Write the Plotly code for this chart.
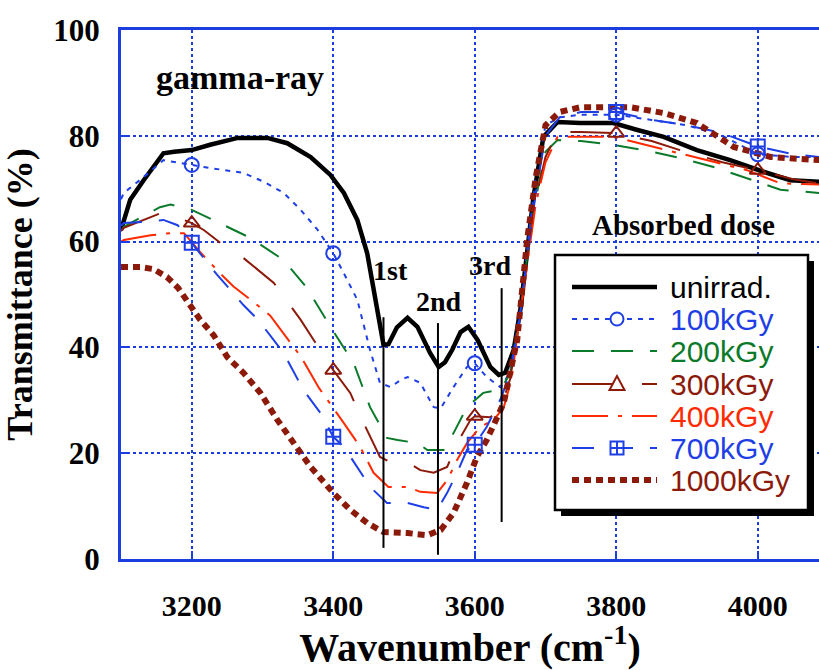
import numpy as np
import plotly.graph_objects as go

# ---- IR transmittance spectra, O-H stretching region ----
WN_UNIRR = [3100, 3113, 3132, 3160, 3175, 3200, 3226, 3265, 3307, 3335, 3368, 3396, 3415, 3434,
            3448, 3457, 3464, 3471, 3478, 3490, 3505, 3519, 3537, 3549, 3558, 3568, 3580, 3591,
            3604, 3622, 3634, 3643, 3655, 3665, 3674, 3683, 3697, 3717, 3749, 3796, 3830, 3867,
            3914, 3961, 4008, 4046, 4087]
T_UNIRR = [62.2, 67.9, 71.6, 76.7, 77.0, 77.3, 78.3, 79.6, 79.6, 78.6, 76.0, 72.6, 69.2, 64.1,
           57.8, 51.4, 45.5, 40.5, 40.6, 43.8, 45.6, 43.9, 38.9, 36.3, 37.2, 39.5, 42.9, 43.9,
           41.4, 36.3, 34.8, 35.2, 39.5, 47.6, 58.0, 68.4, 79.8, 82.6, 82.4, 82.4, 81.1, 79.8,
           77.3, 75.4, 73.2, 71.6, 71.3]

WN_100 = [3100, 3104, 3132, 3160, 3200, 3226, 3273, 3302, 3330, 3354, 3378, 3400, 3415, 3434,
          3452, 3466, 3481, 3495, 3505, 3523, 3542, 3552, 3570, 3589, 3600, 3617, 3636, 3650,
          3662, 3675, 3686, 3700, 3720, 3750, 3800, 3850, 3900, 3950, 4000, 4050, 4087]
T_100 = [68.0, 69.2, 72.2, 75.4, 74.5, 73.9, 73.0, 71.3, 69.2, 66.0, 62.2, 57.8, 54.0, 49.0,
         39.5, 33.3, 32.5, 33.8, 34.4, 33.3, 28.7, 28.5, 32.5, 36.3, 37.0, 34.4, 32.5, 35.2,
         45.0, 60.0, 72.0, 82.0, 83.5, 84.0, 84.0, 83.0, 82.0, 80.0, 76.5, 76.0, 76.0]

WN_200 = [3100, 3104, 3155, 3170, 3200, 3236, 3283, 3330, 3363, 3396, 3429, 3452, 3476, 3491,
          3519, 3533, 3556, 3570, 3589, 3600, 3612, 3636, 3650, 3662, 3675, 3686, 3700, 3717,
          3750, 3796, 3850, 3890, 3940, 3971, 4032, 4087]
T_200 = [62.0, 62.8, 66.5, 67.0, 66.0, 63.7, 60.7, 56.5, 51.2, 43.9, 37.0, 28.7, 22.9, 22.5,
         21.9, 20.6, 20.6, 23.8, 28.7, 30.0, 31.4, 32.0, 35.0, 44.0, 58.0, 68.0, 77.0, 79.2,
         79.0, 78.3, 77.0, 75.8, 74.0, 72.6, 69.8, 69.2]

WN_300 = [3100, 3104, 3160, 3200, 3217, 3241, 3273, 3316, 3354, 3382, 3400, 3424, 3443, 3466,
          3481, 3505, 3523, 3542, 3561, 3575, 3594, 3600, 3622, 3636, 3650, 3662, 3675, 3686,
          3700, 3717, 3750, 3800, 3850, 3890, 3950, 4000, 4050, 4087]
T_300 = [62.0, 62.6, 65.6, 63.5, 62.2, 59.7, 56.9, 52.2, 45.2, 39.5, 35.7, 31.4, 25.7, 19.3,
         18.3, 18.3, 16.8, 16.3, 17.4, 21.9, 26.3, 27.0, 26.8, 28.2, 34.0, 44.0, 58.0, 68.0,
         76.0, 80.7, 80.7, 80.5, 79.0, 77.3, 75.0, 73.5, 71.8, 71.0]

WN_400 = [3100, 3104, 3142, 3170, 3189, 3212, 3240, 3259, 3287, 3311, 3354, 3380, 3415, 3438,
          3457, 3478, 3505, 3523, 3547, 3561, 3575, 3589, 3608, 3627, 3641, 3652, 3662, 3675,
          3686, 3700, 3717, 3796, 3890, 3985, 4032, 4087]
T_400 = [60.0, 60.3, 61.2, 61.6, 61.6, 58.0, 54.0, 51.5, 48.6, 46.0, 38.3, 32.3, 25.7, 21.2,
         16.3, 13.6, 13.6, 12.7, 12.5, 14.9, 18.7, 21.9, 25.0, 26.3, 28.7, 34.0, 44.0, 57.0,
         67.0, 75.0, 79.8, 79.8, 76.7, 73.5, 71.0, 70.8]

WN_700 = [3100, 3104, 3132, 3160, 3180, 3200, 3212, 3236, 3257, 3273, 3294, 3314, 3330, 3358,
          3382, 3400, 3415, 3443, 3457, 3476, 3505, 3528, 3547, 3561, 3575, 3589, 3600, 3617,
          3636, 3650, 3662, 3675, 3686, 3700, 3720, 3750, 3800, 3850, 3900, 3950, 4000, 4050, 4087]
T_700 = [63.0, 63.5, 63.7, 64.1, 63.1, 59.8, 57.8, 53.7, 50.5, 48.0, 45.2, 41.6, 38.9, 31.9,
         27.6, 23.1, 21.2, 15.5, 13.0, 10.6, 10.6, 9.8, 9.3, 12.5, 16.3, 20.6, 21.6, 25.0,
         30.1, 35.0, 44.0, 58.0, 69.0, 80.0, 83.5, 84.5, 84.5, 83.0, 82.0, 80.5, 78.0, 76.5, 76.0]

WN_1000 = [3100, 3127, 3146, 3165, 3181, 3198, 3212, 3231, 3250, 3273, 3297, 3321, 3344, 3368,
           3400, 3424, 3448, 3471, 3505, 3533, 3552, 3570, 3589, 3603, 3617, 3631, 3641, 3650,
           3660, 3674, 3686, 3700, 3720, 3749, 3800, 3820, 3867, 3914, 3966, 4018, 4087]
T_1000 = [55.2, 55.2, 54.8, 53.3, 51.2, 48.0, 45.2, 42.3, 38.2, 35.2, 31.4, 26.3, 21.9, 17.4,
          12.5, 9.3, 6.8, 5.1, 4.9, 4.5, 5.5, 8.7, 14.4, 19.3, 22.5, 26.3, 29.5, 35.2,
          41.4, 60.3, 72.0, 82.0, 84.5, 85.4, 85.5, 85.4, 84.3, 82.4, 77.9, 76.0, 75.4]

# wavenumbers carrying a symbol on the marked series
MARK_WN = [3200, 3400, 3600, 3800, 4000]

# absorption band markers
BAND_LABELS = ["1st", "2nd", "3rd"]
BAND_WN = [3471, 3548, 3638]
BAND_TOP = [45.7, 44.6, 51.2]
BAND_BOTTOM = [2.1, 0.8, 7.0]
BAND_LABEL_WN = [3481, 3549, 3622]
BAND_LABEL_T = [54.6, 48.6, 55.4]

X_TICKS = [3200, 3400, 3600, 3800, 4000]
Y_TICKS = [0, 20, 40, 60, 80, 100]

# ---- styling ----
BLUE = "#1f3fe6"
GREEN = "#0b7a2a"
DARKRED = "#8c1a0a"
RED = "#ff2a00"
AXIS_BLUE = "#1c3ee0"
SERIF = "Liberation Serif, Times New Roman, serif"
SANS = "Liberation Sans, Arial, sans-serif"

series = [
    dict(name="unirrad.", wn=WN_UNIRR, t=T_UNIRR, color="black", width=4.5, dash="solid", symbol=None),
    dict(name="100kGy", wn=WN_100, t=T_100, color=BLUE, width=2, dash="5px,6px", symbol="circle-open"),
    dict(name="200kGy", wn=WN_200, t=T_200, color=GREEN, width=2, dash="22px,17px", symbol=None),
    dict(name="300kGy", wn=WN_300, t=T_300, color=DARKRED, width=2, dash="42px,28px", symbol="triangle-up-open"),
    dict(name="400kGy", wn=WN_400, t=T_400, color=RED, width=2, dash="36px,10px,4px,10px", symbol=None),
    dict(name="700kGy", wn=WN_700, t=T_700, color=BLUE, width=2, dash="22px,17px", symbol="square-cross-open"),
    dict(name="1000kGy", wn=WN_1000, t=T_1000, color=DARKRED, width=6, dash="7px,5px", symbol=None),
]

fig = go.Figure()
for s in series:
    fig.add_trace(go.Scatter(x=s["wn"], y=s["t"], mode="lines", name=s["name"],
                             line=dict(color=s["color"], width=s["width"], dash=s["dash"]),
                             showlegend=False, hoverinfo="skip"))
for s in series:
    if s["symbol"] is None:
        continue
    wn = np.array(s["wn"])
    t = np.array(s["t"])
    sel = np.isin(wn, MARK_WN)
    fig.add_trace(go.Scatter(x=wn[sel], y=t[sel], mode="markers", showlegend=False,
                             marker=dict(symbol=s["symbol"], size=14, color=s["color"],
                                         line=dict(color=s["color"], width=2)),
                             hoverinfo="skip"))

shapes = []
annotations = []

# band position lines and labels
for lab, w, top, bot, lw, lt in zip(BAND_LABELS, BAND_WN, BAND_TOP, BAND_BOTTOM,
                                     BAND_LABEL_WN, BAND_LABEL_T):
    shapes.append(dict(type="line", xref="x", yref="y", x0=w, x1=w, y0=bot, y1=top,
                       line=dict(color="black", width=2), layer="above"))
    annotations.append(dict(x=lw, y=lt, xref="x", yref="y", text=lab, showarrow=False,
                            xanchor="center", yanchor="middle",
                            font=dict(family=SERIF, size=28, color="black", weight="bold")))

# pixel helpers for the key box (plot area spans 121..819 x 30..559)
L, R, T, B = 121, 819, 30, 559


def px(x):
    return (x - L) / (R - L)


def py(y):
    return (B - y) / (B - T)


annotations.append(dict(x=px(240), y=py(78), xref="paper", yref="paper", text="gamma-ray",
                        xanchor="center", yanchor="middle", showarrow=False,
                        font=dict(family=SERIF, size=34, color="black", weight="bold")))
annotations.append(dict(x=px(683), y=py(225), xref="paper", yref="paper", text="Absorbed dose",
                        xanchor="center", yanchor="middle", showarrow=False,
                        font=dict(family=SERIF, size=29, color="black", weight="bold")))

# key box with drop shadow
shapes.append(dict(type="rect", xref="paper", yref="paper", x0=px(561), x1=px(814), y0=py(516), y1=py(261),
                   fillcolor="black", line=dict(width=0), layer="above"))
shapes.append(dict(type="rect", xref="paper", yref="paper", x0=px(555), x1=px(808), y0=py(510), y1=py(255),
                   fillcolor="white", line=dict(color="black", width=2.5), layer="above"))

key_y = [287, 319, 351, 384, 416, 448, 480]
sx0, sx1, mx = 572, 657, 617
for s, ky in zip(series, key_y):
    shapes.append(dict(type="line", xref="paper", yref="paper", x0=px(sx0), x1=px(sx1), y0=py(ky), y1=py(ky),
                       line=dict(color=s["color"], width=s["width"], dash=s["dash"]), layer="above"))
    r = 6.5
    if s["symbol"] == "circle-open":
        shapes.append(dict(type="circle", xref="paper", yref="paper", x0=px(mx - r), x1=px(mx + r),
                           y0=py(ky + r), y1=py(ky - r), fillcolor="white",
                           line=dict(color=s["color"], width=2), layer="above"))
    elif s["symbol"] == "triangle-up-open":
        path = "M {} {} L {} {} L {} {} Z".format(px(mx), py(ky - 8), px(mx - 7.5), py(ky + 6),
                                                  px(mx + 7.5), py(ky + 6))
        shapes.append(dict(type="path", xref="paper", yref="paper", path=path, fillcolor="white",
                           line=dict(color=s["color"], width=2), layer="above"))
    elif s["symbol"] == "square-cross-open":
        shapes.append(dict(type="rect", xref="paper", yref="paper", x0=px(mx - r), x1=px(mx + r),
                           y0=py(ky + r), y1=py(ky - r), fillcolor="white",
                           line=dict(color=s["color"], width=2), layer="above"))
        shapes.append(dict(type="line", xref="paper", yref="paper", x0=px(mx), x1=px(mx),
                           y0=py(ky + r), y1=py(ky - r), line=dict(color=s["color"], width=2), layer="above"))
        shapes.append(dict(type="line", xref="paper", yref="paper", x0=px(mx - r), x1=px(mx + r),
                           y0=py(ky), y1=py(ky), line=dict(color=s["color"], width=2), layer="above"))
    annotations.append(dict(x=px(668), y=py(ky), xref="paper", yref="paper", xanchor="left",
                            yanchor="middle", text=s["name"], showarrow=False,
                            font=dict(family=SANS, size=30, color=s["color"])))

fig.update_layout(
    width=819, height=670,
    margin=dict(l=L, r=819 - R, t=T, b=670 - B),
    paper_bgcolor="white", plot_bgcolor="white",
    showlegend=False,
    shapes=shapes, annotations=annotations,
    xaxis=dict(range=[3100, 3100 + (R - L) / 0.7075], tickvals=X_TICKS,
               showline=True, linecolor=AXIS_BLUE, linewidth=3, mirror=True,
               showgrid=True, gridcolor=AXIS_BLUE, gridwidth=2, griddash="dot",
               zeroline=False, ticks="inside", ticklen=8, tickwidth=2, tickcolor=AXIS_BLUE,
               tickfont=dict(family=SERIF, size=30, color="black", weight="bold"),
               ticklabelstandoff=18,
               title=dict(text="Wavenumber (cm<sup>-1</sup>)", standoff=12,
                          font=dict(family=SERIF, size=40, color="black", weight="bold"))),
    yaxis=dict(range=[0, 100], tickvals=Y_TICKS,
               showline=True, linecolor=AXIS_BLUE, linewidth=3, mirror=False,
               showgrid=True, gridcolor=AXIS_BLUE, gridwidth=2, griddash="dot",
               zeroline=False, ticks="inside", ticklen=8, tickwidth=2, tickcolor=AXIS_BLUE,
               tickfont=dict(family=SERIF, size=31, color="black", weight="bold"),
               ticklabelstandoff=12,
               title=dict(text="Transmittance (%)", standoff=10,
                          font=dict(family=SERIF, size=36, color="black", weight="bold"))),
)

fig.write_html("out.html")
